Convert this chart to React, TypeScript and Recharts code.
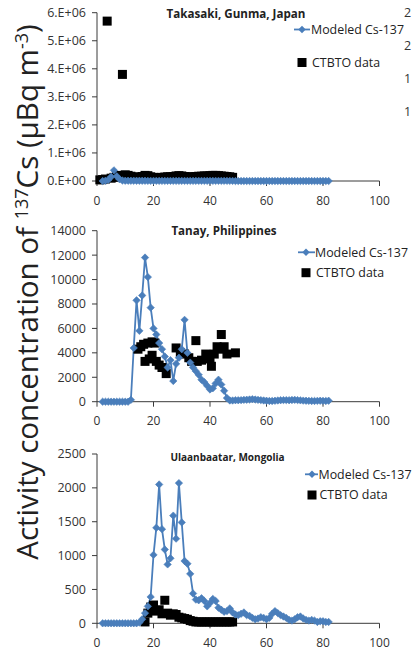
import React from 'react';
import { ComposedChart, Line, Scatter, XAxis, YAxis, Legend } from 'recharts';

const FONT = '"Open Sans", sans-serif';
const BLUE = '#4A7EBB';
const AXIS = '#3a3a3a';

const xTicks = [0, 20, 40, 60, 80, 100];
// modeled series: one value per day, starting at day 2
const modelStartDay = 2;

const takasakiModel = [
  0, 10000, 40000, 150000, 380000, 170000, 60000, 20000, 10000, 10000,
  10000, 10000, 8000, 8000, 8000, 8000, 6000, 6000, 6000, 6000,
  5000, 5000, 5000, 5000, 5000, 5000, 5000, 5000, 5000, 5000,
  5000, 5000, 5000, 5000, 5000, 5000, 5000, 5000, 5000, 5000,
  5000, 5000, 5000, 5000, 5000, 5000, 3000, 0, 0, 0,
  0, 0, 0, 0, 0, 0, 0, 0, 0, 0,
  0, 0, 0, 0, 0, 0, 0, 0, 0, 0,
  0, 0, 0, 0, 0, 0, 0, 0, 0, 0,
  0,
];
const takasakiCtbtoDays = [
  1, 2, 3, 3.6, 5, 6, 7, 8, 9, 10, 11, 12, 13, 14, 15, 16, 17, 18, 19, 20,
  21, 22, 23, 24, 25, 26, 27, 28, 29, 30, 31, 32, 33, 34, 35, 36, 37, 38, 39, 40,
  41, 42, 43, 44, 45, 46, 47, 48,
];
const takasakiCtbto = [
  40000, 50000, 70000, 5700000, 100000, 130000, 170000, 200000, 3800000, 220000,
  200000, 170000, 150000, 130000, 130000, 160000, 200000, 190000, 150000, 130000,
  120000, 120000, 130000, 140000, 150000, 150000, 160000, 180000, 190000, 180000,
  160000, 150000, 140000, 150000, 160000, 170000, 170000, 180000, 180000, 190000,
  200000, 200000, 190000, 180000, 170000, 160000, 150000, 130000,
];
const takasakiTicks = [0, 1000000, 2000000, 3000000, 4000000, 5000000, 6000000];

const tanayModel = [
  0, 0, 0, 0, 0, 0, 0, 0, 0, 0,
  150, 4400, 8300, 5800, 8700, 11800, 10200, 7700, 6000, 5500,
  4800, 4300, 3700, 2800, 3400, 1700, 3100, 3600, 4300, 6700,
  4000, 3200, 2800, 2500, 2200, 1800, 1600, 1300, 1000, 1100,
  1500, 1800, 1400, 900, 300, 100, 100, 120, 120, 130,
  150, 160, 180, 200, 180, 150, 130, 100, 80, 60,
  60, 80, 100, 120, 130, 130, 120, 140, 150, 130,
  110, 90, 80, 70, 60, 60, 70, 80, 70, 60,
  80,
];
const tanayCtbtoDays = [
  14.5, 15.5, 16.5, 17, 18, 18.5, 19.5, 19.5, 20.5, 21, 22, 23, 24.5, 28, 29.5, 31,
  32.5, 33.5, 35, 35.5, 37, 38.5, 40, 40.5, 41.5, 42.5, 43.5, 44, 45, 46, 49,
];
const tanayCtbto = [
  4300, 4500, 4700, 3300, 4800, 3500, 4900, 3800, 4800, 3300, 3000, 2800, 2300, 4400, 4000, 3900,
  3600, 3300, 5000, 3300, 3400, 3900, 3500, 2900, 3900, 4500, 4300, 5500, 4500, 3900, 4000,
];
const tanayTicks = [0, 2000, 4000, 6000, 8000, 10000, 12000, 14000];

const ulaanModel = [
  0, 0, 0, 0, 0, 0, 0, 0, 0, 0,
  0, 0, 0, 10, 60, 150, 250, 390, 1010, 1410,
  2050, 1390, 1090, 870, 960, 1590, 1250, 2070, 1490, 920,
  880, 730, 440, 350, 340, 370, 330, 250, 300, 360,
  330, 230, 200, 170, 180, 220, 160, 130, 120, 140,
  160, 120, 110, 80, 60, 70, 90, 80, 60, 80,
  140, 180, 150, 120, 100, 80, 50, 40, 60, 90,
  100, 70, 50, 40, 50, 40, 20, 30, 30, 20,
  20,
];
const ulaanCtbtoDays = [
  17, 18, 19, 20, 21, 22, 23, 24, 25, 26, 27, 28, 29, 30, 31, 32,
  33, 34, 35, 36, 37, 38, 39, 40, 41, 42, 43, 44, 45, 46, 47, 48,
];
const ulaanCtbto = [
  20, 150, 240, 270, 180, 200, 140, 340, 150, 120, 140, 130, 90, 80, 70, 60,
  40, 30, 20, 20, 20, 20, 20, 20, 20, 20, 20, 20, 20, 20, 20, 20,
];
const ulaanTicks = [0, 500, 1000, 1500, 2000, 2500];

// first digits of the neighbouring panel's axis, visible at the right edge
const edgeDigits = ['2', '2', '1', '1'];

const sciFmt = (v: number) => (v === 0 ? '0.E+00' : `${v / 1000000}.E+06`);

const modelPoints = (vals: number[]) => vals.map((v, i) => ({ x: modelStartDay + i, y: v }));
const ctbtoPoints = (days: number[], vals: number[]) => vals.map((v, i) => ({ x: days[i], y: v }));

const Diamond = (p: any) => {
  const { cx, cy, index } = p;
  if (cx == null || cy == null) return <g key={index} />;
  const r = 3.7;
  return (
    <path
      key={index}
      d={`M${cx},${cy - r}L${cx + r},${cy}L${cx},${cy + r}L${cx - r},${cy}Z`}
      fill={BLUE}
      stroke={BLUE}
      strokeWidth={0.6}
    />
  );
};

const Square = (p: any) => <rect x={p.cx - 4.5} y={p.cy - 4.5} width={9} height={9} fill="#000" />;

const panels = [
  {
    title: 'Takasaki, Gunma, Japan', titleX: 236, titleY: 13.5, titleSize: 11.6,
    top: 0, plotTop: 12.7, plotBottom: 181,
    yTicks: takasakiTicks, fmt: sciFmt,
    model: modelPoints(takasakiModel), ctbto: ctbtoPoints(takasakiCtbtoDays, takasakiCtbto),
    legend: { marker: 302, lineFrom: 294, lineTo: 310, text: 311, row1: 29.5, row2: 62.5 },
  },
  {
    title: 'Tanay, Philippines', titleX: 224, titleY: 230.7, titleSize: 11.6,
    top: 216, plotTop: 230.7, plotBottom: 401.7,
    yTicks: tanayTicks, fmt: (v: number) => String(v),
    model: modelPoints(tanayModel), ctbto: ctbtoPoints(tanayCtbtoDays, tanayCtbto),
    legend: { marker: 306, lineFrom: 298, lineTo: 315, text: 315, row1: 252.3, row2: 272.7 },
  },
  {
    title: 'Ulaanbaatar, Mongolia', titleX: 227.5, titleY: 456.7, titleSize: 10,
    top: 431, plotTop: 454, plotBottom: 623.3,
    yTicks: ulaanTicks, fmt: (v: number) => String(v),
    model: modelPoints(ulaanModel), ctbto: ctbtoPoints(ulaanCtbtoDays, ulaanCtbto),
    legend: { marker: 312, lineFrom: 305, lineTo: 318, text: 318.5, row1: 474.3, row2: 495 },
  },
];

const H = 220;
const W = 415;

function Panel({ p }: { p: (typeof panels)[number] }) {
  const lg = p.legend;
  const renderLegend = () => (
    <svg width={130} height={60} style={{ display: 'block', overflow: 'visible' }}>
      <line x1={lg.lineFrom - 280} x2={lg.lineTo - 280} y1={lg.row1 - p.top} y2={lg.row1 - p.top} stroke={BLUE} strokeWidth={1.8} />
      <path
        d={`M${lg.marker - 280},${lg.row1 - p.top - 3.7}l3.7,3.7l-3.7,3.7l-3.7,-3.7Z`}
        fill={BLUE}
      />
      <text x={lg.text - 280} y={lg.row1 - p.top} dy="0.35em" fontSize={12.4} fontFamily={FONT} fill="#222">
        Modeled Cs-137
      </text>
      <rect x={lg.marker - 280 - 4.5} y={lg.row2 - p.top - 4.5} width={9} height={9} fill="#000" />
      <text x={lg.text - 280 + 1} y={lg.row2 - p.top} dy="0.35em" fontSize={12.4} fontFamily={FONT} fill="#222">
        CTBTO data
      </text>
    </svg>
  );
  return (
    <div style={{ position: 'absolute', left: 0, top: p.top, width: W, height: H }}>
      <ComposedChart
        width={W}
        height={H}
        margin={{ top: p.plotTop - p.top, right: W - 379.5, bottom: p.top + H - p.plotBottom - 25, left: 97 - 60 }}
      >
        <XAxis
          type="number"
          dataKey="x"
          domain={[0, 100]}
          ticks={xTicks}
          interval={0}
          height={25}
          tickSize={5}
          tickMargin={10}
          axisLine={{ stroke: AXIS }}
          tickLine={{ stroke: AXIS }}
          tick={{ fontSize: 12, fontFamily: FONT, fill: '#333' }}
        />
        <YAxis
          type="number"
          dataKey="y"
          domain={[0, p.yTicks[p.yTicks.length - 1]]}
          ticks={p.yTicks}
          interval={0}
          width={60}
          tickSize={5}
          tickMargin={6}
          tickFormatter={p.fmt}
          axisLine={{ stroke: AXIS }}
          tickLine={{ stroke: AXIS }}
          tick={{ fontSize: 12.5, fontFamily: FONT, fill: '#333' }}
        />
        <Line
          data={p.model}
          dataKey="y"
          stroke={BLUE}
          strokeWidth={1.8}
          dot={Diamond}
          activeDot={false}
          isAnimationActive={false}
        />
        <Scatter data={p.ctbto} dataKey="y" shape={Square} isAnimationActive={false} />
        <Legend
          layout="vertical"
          align="center"
          verticalAlign="middle"
          content={renderLegend}
          wrapperStyle={{ position: 'absolute', left: 280, top: 0, width: 130, height: 60 }}
        />
      </ComposedChart>
      <div
        style={{
          position: 'absolute',
          left: p.titleX - 100,
          top: p.titleY - p.top - 9,
          width: 200,
          lineHeight: '18px',
          textAlign: 'center',
          fontFamily: FONT,
          fontWeight: 700,
          fontSize: p.titleSize,
          color: '#222',
          pointerEvents: 'none',
        }}
      >
        {p.title}
      </div>
    </div>
  );
}

export default function App() {
  return (
    <div style={{ position: 'absolute', left: 0, top: 0, width: W, height: 651, overflow: 'hidden', background: '#fff' }}>
      {panels.map((p) => (
        <Panel key={p.title} p={p} />
      ))}
      <svg width={W} height={651} style={{ position: 'absolute', left: 0, top: 0, pointerEvents: 'none' }}>
        <text
          transform="translate(38,292) rotate(-90)"
          textAnchor="middle"
          fontFamily={FONT}
          fontSize={29.5}
          fill="#222"
        >
          Activity concentration of{' '}
          <tspan dy={-10} fontSize={18}>137</tspan>
          <tspan dy={10}>Cs (μBq m</tspan>
          <tspan dy={-10} fontSize={18}>-3</tspan>
          <tspan dy={10}>)</tspan>
        </text>
        {edgeDigits.map((t, i) => (
          <text key={i} x={404} y={13 + i * 33} dy="0.35em" fontFamily={FONT} fontSize={12.5} fill="#333">
            {t}
          </text>
        ))}
      </svg>
    </div>
  );
}
